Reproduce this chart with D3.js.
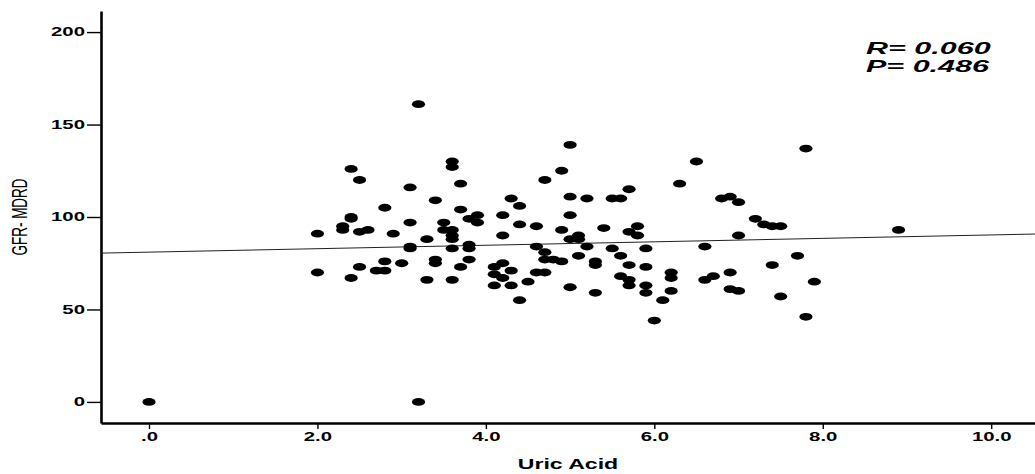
<!DOCTYPE html>
<html>
<head>
<meta charset="utf-8">
<script src="https://cdn.jsdelivr.net/npm/d3@7"></script>
<style>
  body { margin: 0; background: #fff; }
  svg { display: block; font-family: "Liberation Sans", Arial, sans-serif; }
</style>
</head>
<body>
<svg id="chart" width="1035" height="474"></svg>
<script>
// data
var uricAcid = [0.0, 3.2, 2.4, 2.5, 3.1, 2.8, 2.4, 2.4, 2.3, 2.3, 2.0, 2.5, 2.6, 2.9, 3.1, 3.1, 3.1,
  2.0, 2.5, 2.4, 2.8, 2.7, 2.8, 3.0, 3.2, 3.6, 3.6, 3.7, 3.4, 3.7, 3.8, 3.9, 3.9, 3.5, 4.2, 3.5,
  3.6, 3.6, 3.6, 3.3, 4.2, 3.6, 3.8, 3.8, 3.4, 3.4, 3.8, 3.7, 3.3, 3.6, 4.1, 4.1, 4.2, 4.2, 4.3,
  4.1, 4.3, 4.4, 5.0, 4.9, 4.7, 4.3, 4.4, 5.0, 5.2, 5.5, 5.6, 5.0, 4.4, 4.6, 4.9, 5.4, 5.0, 5.1,
  5.1, 4.6, 5.2, 5.5, 4.7, 5.6, 5.1, 4.7, 4.8, 4.9, 5.3, 5.3, 4.6, 4.7, 5.6, 4.5, 5.0, 5.3, 6.5,
  6.3, 5.7, 6.8, 5.8, 5.7, 5.8, 5.9, 6.6, 5.7, 5.9, 5.7, 5.7, 5.9, 5.9, 6.2, 6.2, 6.2, 6.1, 6.0,
  6.6, 6.7, 7.8, 6.9, 7.0, 7.2, 7.3, 7.4, 7.5, 7.0, 8.9, 7.7, 7.4, 6.9, 7.9, 6.9, 7.0, 7.5, 7.8];
var gfrMdrd = [0, 0, 126, 120, 116, 105, 100, 99, 95, 93, 91, 92, 93, 91, 97, 84, 83,
  70, 73, 67, 76, 71, 71, 75, 161, 130, 127, 118, 109, 104, 99, 101, 97, 97, 101, 93,
  93, 90, 88, 88, 90, 83, 85, 83, 77, 75, 77, 73, 66, 66, 73, 69, 75, 67, 71,
  63, 63, 55, 139, 125, 120, 110, 106, 111, 110, 110, 110, 101, 96, 95, 93, 94, 88, 90,
  88, 84, 84, 83, 81, 79, 79, 77, 77, 76, 76, 74, 70, 70, 68, 65, 62, 59, 130,
  118, 115, 110, 95, 92, 90, 83, 84, 74, 73, 66, 63, 63, 59, 70, 67, 60, 55, 44,
  66, 68, 137, 111, 108, 99, 96, 95, 95, 90, 93, 79, 74, 70, 65, 61, 60, 57, 46];

var xTicks = [0, 2, 4, 6, 8, 10];
var yTicks = [0, 50, 100, 150, 200];

// fit line
var fitIntercept = 81.0;
var fitSlope = 0.93;
var statLines = ["R= 0.060", "P= 0.486"];

var SX = 1.7; // the picture is stretched sideways

var points = uricAcid.map(function (d, i) { return { x: d, y: gfrMdrd[i] }; });

var svg = d3.select("#chart");

var xScale = d3.scaleLinear().domain([-0.57, 10.52]).range([101, 1035]);
var yScale = d3.scaleLinear().domain([-11.4, 211.4]).range([423, 11]);

function stretchText(sel, sx) {
    sel.each(function () {
        var t = d3.select(this);
        var x = +t.attr("x") || 0;
        var y = +t.attr("y") || 0;
        t.attr("x", 0).attr("y", 0)
            .attr("transform", "translate(" + x + "," + y + ") scale(" + sx + ",1)");
    });
}

// Y axis
var yAxis = d3.axisLeft(yScale)
    .tickValues(yTicks)
    .tickFormat(d3.format("d"))
    .tickSize(14)
    .tickSizeOuter(0)
    .tickPadding(2);

var gy = svg.append("g")
    .attr("transform", "translate(101,0)")
    .call(yAxis);

// X axis
var xAxis = d3.axisBottom(xScale)
    .tickValues(xTicks)
    .tickFormat(function (d) { return d === 0 ? ".0" : d.toFixed(1); })
    .tickSize(6)
    .tickSizeOuter(0)
    .tickPadding(3);

var gx = svg.append("g")
    .attr("transform", "translate(0,423)")
    .call(xAxis);

[gx, gy].forEach(function (g) {
    g.select(".domain").attr("stroke", "#000").attr("stroke-width", 2.6);
    g.selectAll(".tick line").attr("stroke", "#000").attr("stroke-width", 1.4);
    g.selectAll(".tick text")
        .attr("fill", "#000")
        .style("font-size", "12px")
        .style("font-weight", "bold");
    stretchText(g.selectAll(".tick text"), SX);
});

// axis titles
svg.append("text")
    .attr("transform", "translate(568,469) scale(1.65,1)")
    .attr("text-anchor", "middle")
    .style("font-size", "14px")
    .style("font-weight", "bold")
    .text("Uric Acid");

svg.append("text")
    .attr("transform", "translate(27,217) scale(1.6,1) rotate(-90)")
    .attr("text-anchor", "middle")
    .style("font-size", "13.5px")
    .text("GFR- MDRD");

// fit line
var xd = xScale.domain();
svg.append("line")
    .attr("x1", xScale(xd[0]))
    .attr("y1", yScale(fitIntercept + fitSlope * xd[0]))
    .attr("x2", xScale(xd[1]))
    .attr("y2", yScale(fitIntercept + fitSlope * xd[1]))
    .attr("stroke", "#222")
    .attr("stroke-width", 1);

// points
svg.selectAll(".dot")
    .data(points)
    .enter().append("ellipse")
    .attr("class", "dot")
    .attr("cx", d => xScale(d.x))
    .attr("cy", d => yScale(d.y))
    .attr("rx", 6.6)
    .attr("ry", 3.9)
    .attr("fill", "#000");

// R / P annotation
svg.selectAll(".stat")
    .data(statLines)
    .enter().append("text")
    .attr("class", "stat")
    .attr("transform", (d, i) => "translate(866," + (54 + i * 17.5) + ") scale(1.85,1)")
    .style("font-size", "16.5px")
    .style("font-weight", "bold")
    .style("font-style", "italic")
    .text(d => d);
</script>
</body>
</html>
